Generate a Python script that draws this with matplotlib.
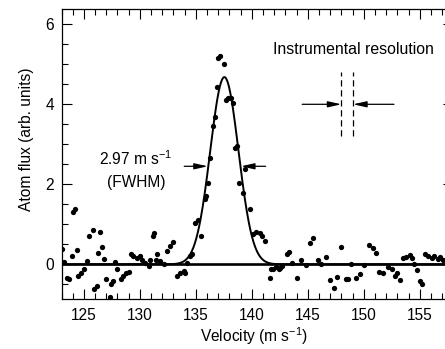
import numpy as np
import matplotlib
matplotlib.use("Agg")
import matplotlib.pyplot as plt
from matplotlib.ticker import MultipleLocator

plt.rcParams['font.family'] = ['Liberation Sans', 'DejaVu Sans']
plt.rcParams['mathtext.fontset'] = 'custom'
plt.rcParams['mathtext.rm'] = 'Liberation Sans'

# ---- data ----
velocity = [123.0, 123.2, 123.5, 123.7, 123.9, 124.07, 124.2, 124.4, 124.5, 124.7,
            125.0, 125.3, 125.5, 125.8, 125.9, 126.2, 126.3, 126.4, 126.6, 126.8,
            127.0, 127.3, 127.4, 127.6, 127.8, 128.0, 128.3, 128.5, 128.75, 129.0,
            129.2, 129.4, 129.7, 130.0, 130.2, 130.5, 130.8, 130.9, 131.2, 131.3,
            131.4, 131.5, 131.8, 132.2, 132.4, 132.7, 133.0, 133.3, 133.6, 133.9,
            134.05, 134.2, 134.5, 134.7, 134.9, 135.2, 135.5, 135.8, 135.9, 136.1,
            136.3, 136.5, 136.7, 136.9, 137.0, 137.2, 137.5, 137.7, 137.9, 138.1,
            138.3, 138.5, 138.66, 138.9, 139.25, 139.4, 139.85, 140.1, 140.4, 140.7,
            140.9, 141.2, 141.6, 141.7, 141.9, 142.2, 142.4, 142.5, 142.7, 143.1,
            143.3, 143.6, 144.0, 144.4, 144.8, 145.2, 145.5, 145.9, 146.2, 146.6,
            147.0, 147.3, 147.6, 148.0, 148.4, 148.6, 148.9, 149.3, 149.7, 150.05,
            150.5, 150.8, 151.1, 151.4, 151.75, 152.2, 152.55, 152.8, 152.95, 153.2,
            153.5, 153.8, 154.1, 154.3, 154.5, 154.8, 155.0, 155.2, 155.5, 155.7,
            156.1, 156.3, 156.6, 156.8, 157.1]
flux = [0.39, 0.06, -0.33, -0.37, 0.22, 1.31, 1.39, 0.37, -0.29, -0.21,
        -0.12, 0.08, 0.72, 0.87, -0.62, -0.54, 0.29, 0.81, 0.44, 0.14,
        -0.37, -0.81, -0.48, -0.42, 0.06, -0.12, -0.36, -0.28, -0.21, -0.19,
        0.25, 0.21, 0.17, 0.21, 0.12, 0.04, -0.03, 0.12, 0.71, 0.79,
        0.12, 0.25, 0.08, 0.0, 0.33, 0.46, 0.56, -0.28, -0.21, -0.17,
        -0.21, 0.04, 0.21, 0.25, 1.04, 1.12, 0.71, 1.64, 1.71, 2.04,
        2.67, 3.46, 3.68, 4.43, 5.17, 5.21, 5.0, 4.12, 4.17, 4.15,
        4.04, 2.92, 2.96, 2.04, 1.79, 2.38, 1.38, 0.75, 0.81, 0.79,
        0.71, 0.58, -0.33, -0.12, -0.11, -0.07, -0.12, -0.08, -0.04, 0.25,
        0.32, 0.04, -0.33, 0.12, -0.02, 0.54, 0.65, 0.10, 0.02, 0.19,
        -0.40, -0.58, -0.32, 0.44, -0.36, -0.37, 0.0, -0.33, -0.23, -0.02,
        0.48, 0.42, 0.29, -0.18, -0.21, -0.07, -0.12, -0.29, -0.21, -0.39,
        0.17, 0.18, 0.23, 0.17, 0.02, -0.15, -0.42, -0.48, 0.27, 0.21,
        0.17, 0.21, 0.14, 0.18, 0.12]

fit_center = 137.55
fit_amplitude = 4.68
fit_fwhm = 2.97

xticks = [125, 130, 135, 140, 145, 150, 155]
yticks = [0, 2, 4, 6]

# ---- figure ----
W, H = 445, 349
fig = plt.figure(figsize=(W / 100, H / 100), dpi=100)
left, right, top, bottom = 61.5, 453.3, 9.3, 299.3
ax = fig.add_axes([left / W, 1 - bottom / H, (right - left) / W, (bottom - top) / H])

ax.set_xlim(123, 158)
ax.set_ylim(-0.875, 6.375)

# fit
sigma = fit_fwhm / (2 * np.sqrt(2 * np.log(2)))
xs = np.linspace(123, 158, 800)
ax.plot(xs, fit_amplitude * np.exp(-(xs - fit_center) ** 2 / (2 * sigma ** 2)),
        color='black', lw=1.4, zorder=3)
ax.axhline(0, color='black', lw=1.9, zorder=3)

ax.plot(velocity, flux, 'o', color='black', ms=3.8, mec='none', zorder=4)

# FWHM arrows
half = 2.45
arr = dict(arrowstyle='-|>,head_length=0.8,head_width=0.18', color='black', lw=0.9,
           shrinkA=0, shrinkB=0)
xl = fit_center - fit_fwhm / 2
xr = fit_center + fit_fwhm / 2
ax.annotate('', xy=(xl, half), xytext=(xl - 2.1, half), arrowprops=arr)
ax.annotate('', xy=(xr, half), xytext=(xr + 2.2, half), arrowprops=arr)
ax.text(129.64, 2.63, r'2.97 m s$^{-1}$', ha='center', va='center', fontsize=11.2)
ax.text(129.64, 2.05, '(FWHM)', ha='center', va='center', fontsize=11.2)

# instrumental resolution
ax.text(149.1, 5.38, 'Instrumental resolution', ha='center', va='center', fontsize=11.4)
for xv in (148.0, 149.05):
    ax.plot([xv, xv], [3.2, 4.8], color='black', lw=0.9, ls=(0, (5, 3)))
ax.annotate('', xy=(148.0, 4.0), xytext=(144.5, 4.0), arrowprops=arr)
ax.annotate('', xy=(149.05, 4.0), xytext=(152.7, 4.0), arrowprops=arr)

# axes styling
ax.set_xticks(xticks)
ax.set_yticks(yticks)
ax.xaxis.set_minor_locator(MultipleLocator(1))
ax.yaxis.set_minor_locator(MultipleLocator(0.5))
ax.tick_params(which='both', direction='in', top=True, right=True, width=0.8,
               labelsize=11.2)
ax.tick_params(which='major', length=7.5)
ax.tick_params(which='minor', length=4)
ax.tick_params(axis='x', pad=6)
ax.tick_params(axis='y', pad=5.5)
for s in ax.spines.values():
    s.set_linewidth(0.9)

fig.text(253.5 / W, 1 - 336.5 / H, r'Velocity (m s$^{-1}$)', ha='center', va='center',
         fontsize=11.2)
fig.text(26 / W, 1 - 139 / H, 'Atom flux (arb. units)', ha='center', va='center',
         rotation=90, fontsize=11.2)

fig.savefig('out.png', dpi=100)
